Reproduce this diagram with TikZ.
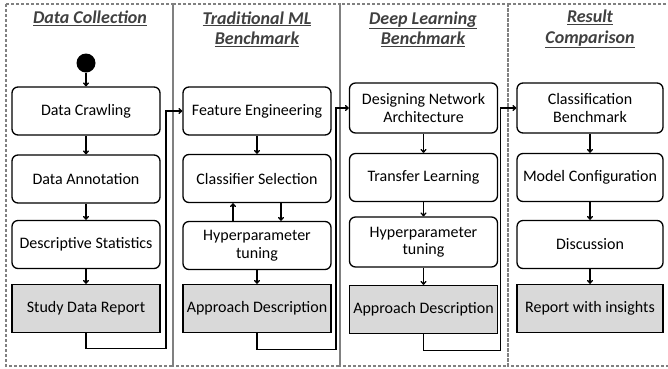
\documentclass[tikz,border=0pt]{standalone}
\usepackage{fontspec}
\setmainfont{Carlito}
\usetikzlibrary{arrows.meta}

\tikzset{
    stagebox/.style={draw=black, fill=white, line width=1.3pt, rounded corners=6pt,
        minimum width=148pt, minimum height=48pt, align=center, inner sep=2pt,
        font=\fontsize{16}{17.5}\selectfont},
    outbox/.style={stagebox, fill=black!15, rounded corners=0pt},
    lane/.style={draw=black!50, line width=1.1pt, dash pattern=on 3pt off 2pt},
    lanetitle/.style={align=center, text=black!75, font=\fontsize{18}{20.5}\selectfont\bfseries\itshape},
    flow/.style={line width=1.3pt, -{To[length=4pt,width=6pt]}},
}

\begin{document}
\begin{tikzpicture}[x=1pt, y=-1pt]

    \useasboundingbox (0,0) rectangle (668,368);

    % swim lanes
    \draw[lane] (6,4) rectangle (173,366);
    \draw[lane] (173,4) rectangle (340,366);
    \draw[lane] (340,4) rectangle (508,366);
    \draw[lane] (508,4) rectangle (690,366);

    \node[lanetitle] (colltitle) at (90,18) {\underline{Data Collection}};
    \node[lanetitle] (mltitle) at (257,29) {\underline{Traditional ML}\\\underline{Benchmark}};
    \node[lanetitle] (dltitle) at (423,29) {\underline{Deep Learning}\\\underline{Benchmark}};
    \node[lanetitle] (restitle) at (590,29) {\underline{Result}\\\underline{Comparison}};

    % data collection
    \node[circle, fill=black, minimum size=19pt, inner sep=0pt] (start) at (86,63) {};
    \node[stagebox] (crawl) at (86,111) {Data Crawling};
    \node[stagebox] (annot) at (86,179) {Data Annotation};
    \node[stagebox] (descr) at (86,244.5) {Descriptive Statistics};
    \node[outbox] (datarep) at (86,308.5) {Study Data Report};

    \draw[flow] (start) -- (crawl);
    \draw[flow] (crawl) -- (annot);
    \draw[flow] (annot) -- (descr);
    \draw[flow] (descr) -- (datarep);

    % traditional ml benchmark
    \node[stagebox] (feat) at (257,111) {Feature Engineering};
    \node[stagebox] (clssel) at (257,178.5) {Classifier Selection};
    \node[stagebox] (mlhyper) at (257,245.5) {Hyperparameter\\tuning};
    \node[outbox] (mlappr) at (257,308.5) {Approach Description};

    \draw[flow] (feat) -- (clssel);
    \draw[flow] ([xshift=24pt]clssel.south) -- ([xshift=24pt]mlhyper.north);
    \draw[flow] ([xshift=-24pt]mlhyper.north) -- ([xshift=-24pt]clssel.south);
    \draw[flow] (mlhyper) -- (mlappr);

    % deep learning benchmark
    \node[stagebox, minimum height=50pt] (netarch) at (423.5,108) {Designing Network\\Architecture};
    \node[stagebox] (transfer) at (423.5,177.5) {Transfer Learning};
    \node[stagebox, minimum height=50pt] (dlhyper) at (423.5,242) {Hyperparameter\\tuning};
    \node[outbox] (dlappr) at (423.5,309.5) {Approach Description};

    \draw[flow] (netarch) -- (transfer);
    \draw[flow] (transfer) -- (dlhyper);
    \draw[flow] (dlhyper) -- (dlappr);

    % result comparison
    \node[stagebox, minimum width=146pt, minimum height=50pt] (clsbench) at (590,108) {Classification\\Benchmark};
    \node[stagebox, minimum width=146pt] (modelcfg) at (590,177.5) {Model Configuration};
    \node[stagebox, minimum width=146pt] (discuss) at (590,244.5) {Discussion};
    \node[outbox, minimum width=146pt] (insights) at (590,308.5) {Report with insights};

    \draw[flow] (clsbench) -- (modelcfg);
    \draw[flow] (modelcfg) -- (discuss);
    \draw[flow] (discuss) -- (insights);

    % hand over to next lane
    \draw[flow] (datarep.south) -- ++(0,15) -- ++(80,0) |- (feat.west);
    \draw[flow] (mlappr.south) -- ++(0,16) -- ++(79,0) |- (netarch.west);
    \draw[flow] (dlappr.south) -- ++(0,16) -- ++(77,0) |- (clsbench.west);

\end{tikzpicture}
\end{document}
